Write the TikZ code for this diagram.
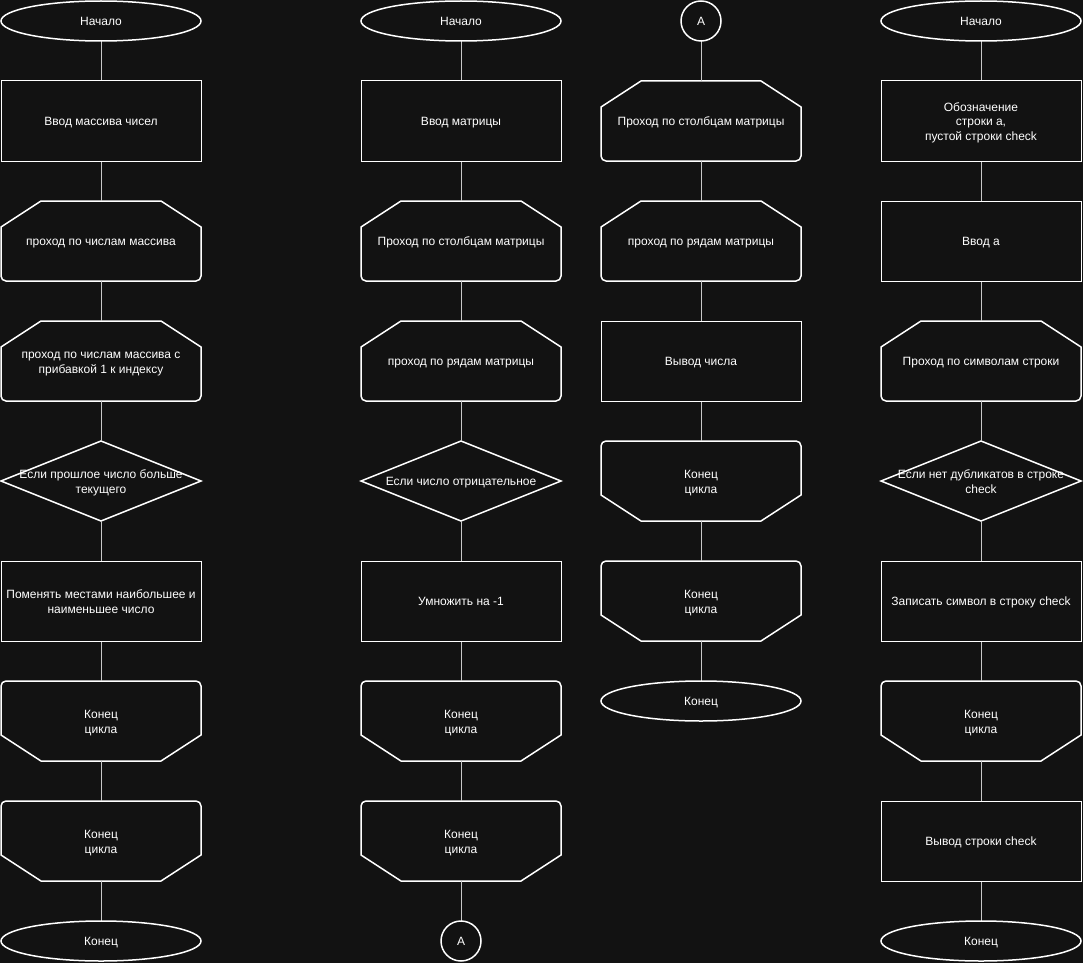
\documentclass[tikz,border=0pt]{standalone}
\usepackage{fontspec}
\setmainfont{Liberation Sans}
\usetikzlibrary{shapes.geometric}

\definecolor{bgcol}{RGB}{18,18,18}
\definecolor{linkcol}{RGB}{200,200,200}

\pgfdeclarelayer{back}
\pgfdeclarelayer{mid}
\pgfsetlayers{back,mid,main}

\tikzset{
  blk/.style={minimum width=200pt, minimum height=80pt, inner sep=0pt, outer sep=0pt,
    align=center, text=white, font=\fontsize{12}{14.4}\selectfont,
    text height=12.2pt, text depth=2.6pt},
  two/.style={text height=26.6pt},
  three/.style={text height=41pt},
  proc/.style={blk, draw=white, line width=1pt},
  term/.style={blk, ellipse, draw=white, line width=1.5pt, minimum height=40pt},
  onpage/.style={blk, circle, draw=white, line width=1.5pt, minimum width=40pt, minimum height=40pt},
  shapeline/.style={draw=white, line width=1.5pt},
  link/.style={draw=linkcol, line width=1pt},
}

% loop start: top corners cut
\newcommand\loopbegshape[1]{%
  \draw[shapeline] ([xshift=40pt]#1.north west) -- ([yshift=-26pt]#1.north west)
    -- ([yshift=5pt]#1.south west) arc[start angle=180, end angle=270, radius=5pt]
    -- ([xshift=-5pt]#1.south east) arc[start angle=270, end angle=360, radius=5pt]
    -- ([yshift=-26pt]#1.north east) -- ([xshift=-40pt]#1.north east) -- cycle;}
% loop end: bottom corners cut
\newcommand\loopendshape[1]{%
  \draw[shapeline] ([yshift=-5pt]#1.north west) arc[start angle=180, end angle=90, radius=5pt]
    -- ([xshift=-5pt]#1.north east) arc[start angle=90, end angle=0, radius=5pt]
    -- ([yshift=26pt]#1.south east) -- ([xshift=-40pt]#1.south east)
    -- ([xshift=40pt]#1.south west) -- ([yshift=26pt]#1.south west) -- cycle;}
% decision
\newcommand\decshape[1]{%
  \draw[shapeline] (#1.north) -- (#1.east) -- (#1.south) -- (#1.west) -- cycle;}

\begin{document}
\begin{tikzpicture}[x=1pt, y=-1pt]
    \useasboundingbox (0,0) rectangle (1083,963);
    \begin{pgfonlayer}{back}
        \fill[bgcol] (0,0) rectangle (1083,963);
    \end{pgfonlayer}

    % Column 1
    \node[term] (s1) at (101,21) {Начало};
    \node[proc] (p1) at (101,121) {Ввод массива чисел};
    \node[blk] (l1) at (101,241) {проход по числам массива};
    \node[blk, two] (l2) at (101,361) {проход по числам массива с\\прибавкой 1 к индексу};
    \node[blk, two] (d1) at (101,481) {Если прошлое число больше\\текущего};
    \node[proc, two] (p2) at (101,601) {Поменять местами наибольшее и\\наименьшее число};
    \node[blk, two] (e1) at (101,721) {Конец\\цикла};
    \node[blk, two] (e2) at (101,841) {Конец\\цикла};
    \node[term] (f1) at (101,941) {Конец};

    % Column 2
    \node[term] (s2) at (461,21) {Начало};
    \node[proc] (p3) at (461,121) {Ввод матрицы};
    \node[blk] (l3) at (461,241) {Проход по столбцам матрицы};
    \node[blk] (l4) at (461,361) {проход по рядам матрицы};
    \node[blk] (d2) at (461,481) {Если число отрицательное};
    \node[proc] (p4) at (461,601) {Умножить на -1};
    \node[blk, two] (e3) at (461,721) {Конец\\цикла};
    \node[blk, two] (e4) at (461,841) {Конец\\цикла};
    \node[onpage] (a1) at (461,941) {A};

    % Column 3
    \node[onpage] (a2) at (701,21) {A};
    \node[blk] (l5) at (701,121) {Проход по столбцам матрицы};
    \node[blk] (l6) at (701,241) {проход по рядам матрицы};
    \node[proc] (p5) at (701,361) {Вывод числа};
    \node[blk, two] (e5) at (701,481) {Конец\\цикла};
    \node[blk, two] (e6) at (701,601) {Конец\\цикла};
    \node[term] (f2) at (701,701) {Конец};

    % Column 4
    \node[term] (s3) at (981,21) {Начало};
    \node[proc, three] (p6) at (981,121) {Обозначение\\строки a,\\пустой строки check};
    \node[proc] (p7) at (981,241) {Ввод a};
    \node[blk] (l7) at (981,361) {Проход по символам строки};
    \node[blk, two] (d3) at (981,481) {Если нет дубликатов в строке\\check};
    \node[proc] (p8) at (981,601) {Записать символ в строку check};
    \node[blk, two] (e7) at (981,721) {Конец\\цикла};
    \node[proc] (p9) at (981,841) {Вывод строки check};
    \node[term] (f3) at (981,941) {Конец};

    \begin{pgfonlayer}{mid}
        % Outlines
        \foreach \n in {l1,l2,l3,l4,l5,l6,l7} {\loopbegshape{\n}}
        \foreach \n in {e1,e2,e3,e4,e5,e6,e7} {\loopendshape{\n}}
        \foreach \n in {d1,d2,d3} {\decshape{\n}}
        % Links
        \foreach \u/\v in {s1/p1, p1/l1, l1/l2, l2/d1, d1/p2, p2/e1, e1/e2, e2/f1,
                           s2/p3, p3/l3, l3/l4, l4/d2, d2/p4, p4/e3, e3/e4, e4/a1,
                           a2/l5, l5/l6, l6/p5, p5/e5, e5/e6, e6/f2,
                           s3/p6, p6/p7, p7/l7, l7/d3, d3/p8, p8/e7, e7/p9, p9/f3}
            \draw[link] (\u) -- (\v);
    \end{pgfonlayer}
\end{tikzpicture}
\end{document}
